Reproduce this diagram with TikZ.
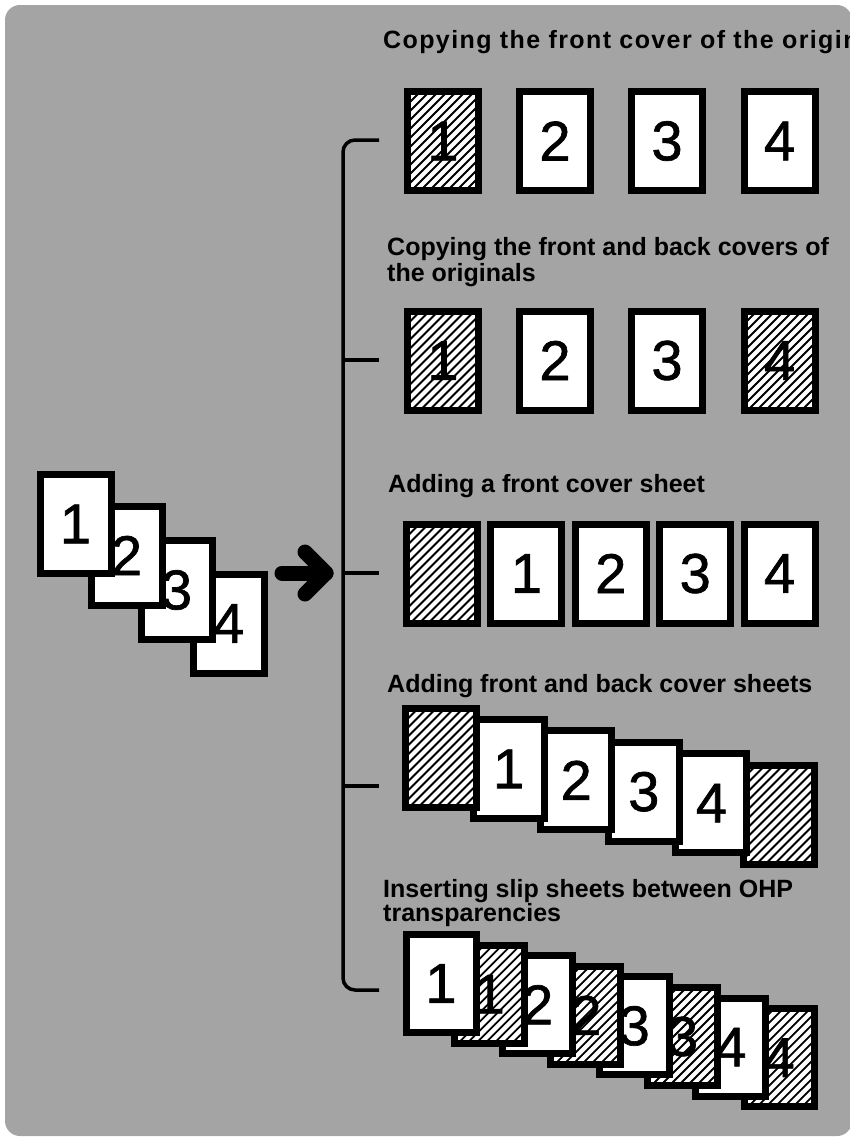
\documentclass[tikz,border=0pt]{standalone}
\usepackage{fontspec}
\setmainfont{Liberation Sans}
\newfontfamily\digitfont[FakeBold=1.2]{Liberation Sans}
\usetikzlibrary{calc}
\definecolor{bggray}{RGB}{164,164,164}
\tikzset{
  sheet/.style={draw=black, line width=7pt, fill=white, minimum width=71pt,
    minimum height=99pt, inner sep=0pt, font=\digitfont\fontsize{56}{56}\selectfont},
  slimsheet/.style={sheet, minimum width=70pt, minimum height=98pt},
  hatched/.style={path picture={%
      \foreach \k in {-11,...,11}{%
        \draw[black, line width=1.8pt]
          ([shift={(\k*9-60,60)}]path picture bounding box.center) -- ++(120,-120);}}},
  title/.style={anchor=base west, inner sep=0pt, font=\fontsize{25}{26}\selectfont\bfseries},
  bracket/.style={line width=3.5pt, rounded corners=12pt},
  tick/.style={line width=3.5pt},
  bigarrow/.style={line width=15pt, line cap=round, line join=round},
}
\begin{document}
\begin{tikzpicture}[x=1pt,y=-1pt]
\useasboundingbox (0,0) rectangle (850,1138);
\fill[bggray, rounded corners=15pt] (5,5) rectangle (852,1136);

% original stack
\node[sheet] (L4) at (228.5,623.5) {4};
\node[sheet] (L3) at (176.5,590) {3};
\node[sheet] (L2) at (126.5,555.5) {2};
\node[sheet] (L1) at (75.5,524) {1};

% arrow
\coordinate (ashaft) at (282,573);
\coordinate (atip) at (326,573);
\coordinate (aup) at (305,552);
\coordinate (adown) at (305,594);
\draw[bigarrow] (ashaft) -- (atip);
\draw[bigarrow] (aup) -- (atip) -- (adown);

% bracket
\coordinate (bv) at (343,573);
\coordinate (b1) at (379,140);
\coordinate (b2) at (379,360);
\coordinate (b3) at (379,573);
\coordinate (b4) at (379,786);
\coordinate (b5) at (379,990);
\draw[bracket] (b1) -| (bv) |- (b5);
\draw[tick] (b2 -| bv) -- (b2);
\draw[tick] (bv) -- (b3);
\draw[tick] (b4 -| bv) -- (b4);

% row 1
\node[title, font=\fontsize{25}{26}\selectfont\bfseries\addfontfeatures{LetterSpace=5.6}] (t1) at (383,48) {Copying the front cover of the origin};
\node[sheet, hatched] (r1a) at (443,141) {1};
\node[sheet] (r1b) at (555,141) {2};
\node[sheet] (r1c) at (667,141) {3};
\node[sheet] (r1d) at (779.5,141) {4};

% row 2
\node[title] (t2) at (387,255) {Copying the front and back covers of};
\node[title] (t2b) at (387,281) {the originals};
\node[sheet, hatched] (r2a) at (443,360.5) {1};
\node[sheet] (r2b) at (555,360.5) {2};
\node[sheet] (r2c) at (667,360.5) {3};
\node[sheet, hatched] (r2d) at (779.5,360.5) {4};

% row 3
\node[title] (t3) at (388,492) {Adding a front cover sheet};
\node[sheet, hatched] (r3a) at (442,573.5) {};
\node[sheet] (r3b) at (526.4,573.5) {1};
\node[sheet] (r3c) at (610.8,573.5) {2};
\node[sheet] (r3d) at (695.2,573.5) {3};
\node[sheet] (r3e) at (779.6,573.5) {4};

% row 4
\node[title] (t4) at (387,692) {Adding front and back cover sheets};
\node[sheet, hatched] (r4f) at (779,814.5) {};
\node[sheet] (r4e) at (711.4,803.1) {4};
\node[sheet] (r4d) at (643.8,791.7) {3};
\node[sheet] (r4c) at (576.2,780.3) {2};
\node[sheet] (r4b) at (508.6,768.9) {1};
\node[sheet, hatched] (r4a) at (441,757.5) {};

% row 5
\node[title] (t5) at (383,897) {Inserting slip sheets between OHP};
\node[title] (t5b) at (383,921) {transparencies};
\node[slimsheet, hatched] (r5h) at (779.1,1057.7) {4};
\node[slimsheet] (r5g) at (730.8,1047.1) {4};
\node[slimsheet, hatched] (r5f) at (682.5,1036.5) {3};
\node[slimsheet] (r5e) at (634.2,1025.9) {3};
\node[slimsheet, hatched] (r5d) at (585.9,1015.3) {2};
\node[slimsheet] (r5c) at (537.6,1004.7) {2};
\node[slimsheet, hatched] (r5b) at (489.3,994.1) {1};
\node[slimsheet] (r5a) at (441,983.5) {1};
\end{tikzpicture}
\end{document}
